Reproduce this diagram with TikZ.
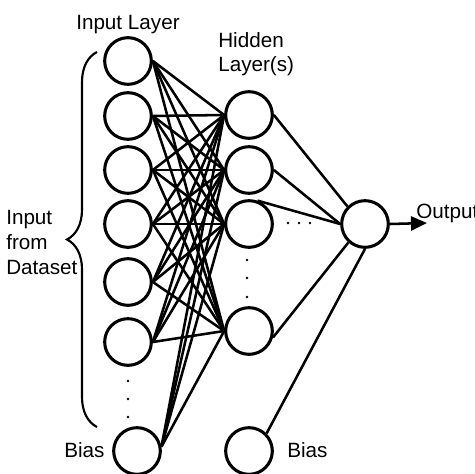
\documentclass[tikz,border=0pt]{standalone}
\usepackage{fontspec}
\setmainfont{Liberation Sans}
\usetikzlibrary{arrows.meta,decorations.pathreplacing}
\tikzset{every picture/.style={line width=1.9pt}}
\tikzset{
  neuron/.style={draw,circle,line width=2.3pt,minimum size=35pt,inner sep=0pt},
  lbl/.style={inner sep=0pt,font=\fontsize{15.5}{18.4}\selectfont,align=left}
}

\begin{document}
\begin{tikzpicture}[x=0.75pt,y=0.75pt,yscale=-1,xscale=1]
\useasboundingbox (0,0) rectangle (474,474);

%Shape: Circle (input layer)
\node [neuron] (in1) at (128,61) {};
\node [neuron] (in2) at (128,116) {};
\node [neuron] (in3) at (128,170) {};
\node [neuron] (in4) at (128,224) {};
\node [neuron] (in5) at (128,282) {};
\node [neuron] (in6) at (128,342) {};
\node [neuron] (inb) at (137,451) {};
%Shape: Circle (hidden layer)
\node [neuron] (hid1) at (249,115) {};
\node [neuron] (hid2) at (249,170) {};
\node [neuron] (hid3) at (249,224) {};
\node [neuron] (hid4) at (249,331) {};
\node [neuron] (hidb) at (249,451) {};
%Shape: Circle (output)
\node [neuron] (out) at (365,224) {};
\coordinate (outtip) at (427,223);

%Straight Lines
\draw (in1.east) -- (hid1.west);
\draw (in1.east) -- (hid2.west);
\draw (in1.east) -- (hid3.west);
\draw (in1.east) -- (hid4.west);
\draw (in2.east) -- (hid1.west);
\draw (in2.east) -- (hid2.west);
\draw (in2.east) -- (hid3.west);
\draw (in2.east) -- (hid4.west);
\draw (in3.east) -- (hid1.west);
\draw (in3.east) -- (hid2.west);
\draw (in3.east) -- (hid3.west);
\draw (in3.east) -- (hid4.west);
\draw (in4.east) -- (hid1.west);
\draw (in4.east) -- (hid2.west);
\draw (in4.east) -- (hid3.west);
\draw (in4.east) -- (hid4.west);
\draw (in5.east) -- (hid1.west);
\draw (in5.east) -- (hid2.west);
\draw (in5.east) -- (hid3.west);
\draw (in5.east) -- (hid4.west);
\draw (in6.east) -- (hid1.west);
\draw (in6.east) -- (hid2.west);
\draw (in6.east) -- (hid3.west);
\draw (in6.east) -- (hid4.west);
\draw (inb.10) -- (hid1.west);
\draw (inb.10) -- (hid2.west);
\draw (inb.10) -- (hid3.west);
\draw (inb.10) -- (hid4.west);
%Straight Lines
\draw (hid1.east) -- (out.135);
\draw (hid2.east) -- (out.west);
\draw (hid3.70) -- (out.west);
\draw (hid4.-15) -- (out.228);
\draw (hidb.45) -- (out.south);
%Straight Lines
\draw [-{Triangle[length=12pt,width=10.5pt]}] (out.east) -- (outtip);

%Shape: Dots
\fill (128,381) circle (1.3);
\fill (128,399) circle (1.3);
\fill (128,417) circle (1.3);
\fill (247,260) circle (1.3);
\fill (247,278) circle (1.3);
\fill (247,297) circle (1.3);
\fill (288,223) circle (1.3);
\fill (299,223) circle (1.3);
\fill (310,223) circle (1.3);

%Shape: Brace
\draw [line width=1.6pt,decorate,decoration={brace,amplitude=22.5pt}] (97,427) -- (97,52);

% Text Node
\node [lbl,anchor=base west] (inlabel) at (75,30) {Input Layer};
% Text Node
\node [lbl,anchor=base west] (hidlabel) at (217,72) {Hidden\\Layer(s)};
% Text Node
\node [lbl,anchor=base west] (datalabel) at (5,274) {Input\\from\\Dataset};
% Text Node
\node [lbl,anchor=base west] (inbias) at (63,457) {Bias};
% Text Node
\node [lbl,anchor=base west] (hidbias) at (286,457) {Bias};
% Text Node
\node [lbl,anchor=base west] (outlabel) at (415,218) {Output};

\end{tikzpicture}
\end{document}
